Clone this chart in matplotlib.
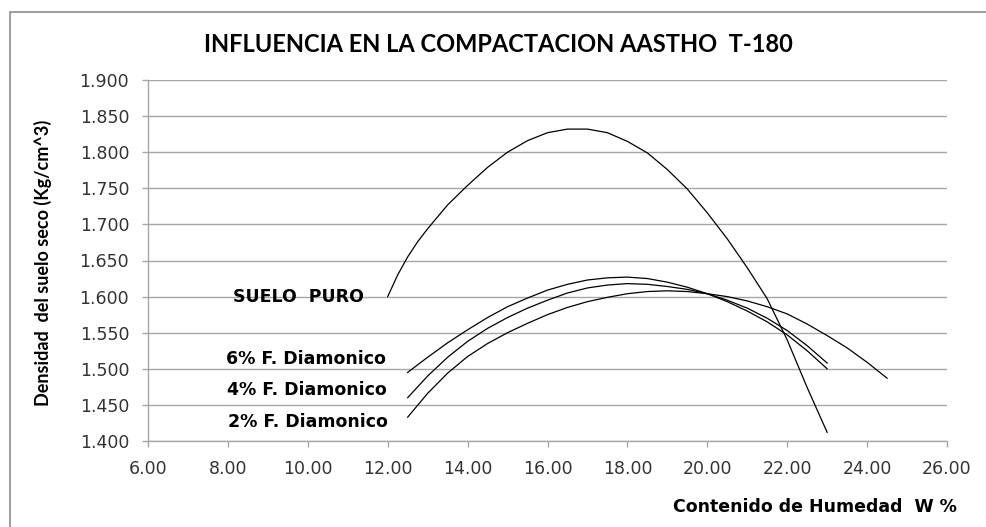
import matplotlib
matplotlib.use("Agg")
import matplotlib.pyplot as plt
from matplotlib.patches import Rectangle

# Humedad W% (x) and densidad seca (y)
x_puro = [12.0, 12.25, 12.5, 12.75, 13.0, 13.5, 14.0, 14.5, 15.0, 15.5, 16.0, 16.5, 17.0, 17.5,
          18.0, 18.5, 19.0, 19.5, 20.0, 20.5, 21.0, 21.5, 22.0, 22.5, 23.0]
y_puro = [1.600, 1.630, 1.655, 1.676, 1.694, 1.727, 1.754, 1.779, 1.800, 1.816, 1.827, 1.832,
          1.832, 1.827, 1.815, 1.799, 1.776, 1.749, 1.716, 1.680, 1.640, 1.597, 1.540, 1.474, 1.412]

x_6 = [12.5, 13.0, 13.5, 14.0, 14.5, 15.0, 15.5, 16.0, 16.5, 17.0, 17.5,
       18.0, 18.5, 19.0, 19.5, 20.0, 20.5, 21.0, 21.5, 22.0, 22.5, 23.0]
y_6 = [1.495, 1.516, 1.536, 1.554, 1.571, 1.586, 1.598, 1.609, 1.617, 1.623, 1.626,
       1.627, 1.625, 1.620, 1.613, 1.604, 1.593, 1.580, 1.565, 1.547, 1.525, 1.500]

x_4 = [12.5, 13.0, 13.5, 14.0, 14.5, 15.0, 15.5, 16.0, 16.5, 17.0, 17.5,
       18.0, 18.5, 19.0, 19.5, 20.0, 20.5, 21.0, 21.5, 22.0, 22.5, 23.0]
y_4 = [1.460, 1.490, 1.516, 1.538, 1.556, 1.571, 1.584, 1.595, 1.605, 1.612, 1.616,
       1.618, 1.617, 1.614, 1.610, 1.604, 1.595, 1.584, 1.570, 1.553, 1.532, 1.508]

x_2 = [12.5, 13.0, 13.5, 14.0, 14.5, 15.0, 15.5, 16.0, 16.5, 17.0, 17.5, 18.0, 18.5,
       19.0, 19.5, 20.0, 20.5, 21.0, 21.5, 22.0, 22.5, 23.0, 23.5, 24.0, 24.5]
y_2 = [1.433, 1.466, 1.494, 1.517, 1.535, 1.550, 1.563, 1.575, 1.585, 1.593, 1.599, 1.604, 1.607,
       1.608, 1.607, 1.604, 1.600, 1.594, 1.586, 1.576, 1.562, 1.546, 1.529, 1.509, 1.487]

x_ticks = [6, 8, 10, 12, 14, 16, 18, 20, 22, 24, 26]
y_ticks = [1.40, 1.45, 1.50, 1.55, 1.60, 1.65, 1.70, 1.75, 1.80, 1.85, 1.90]

# label text and (x, y) anchor in data units, right aligned
etiquetas = [("SUELO  PURO", 11.4, 1.600),
             ("6% F. Diamonico", 11.95, 1.514),
             ("4% F. Diamonico", 11.98, 1.470),
             ("2% F. Diamonico", 12.0, 1.427)]

title_font = ["Lato", "DejaVu Sans"]
label_font = ["DejaVu Sans"]
grid_col = "#a6a6a6"

fig = plt.figure(figsize=(9.87, 5.27), dpi=100)
fig.patches.append(Rectangle((10 / 987, -0.1), 1.1, 1 - 12 / 527 + 0.1,
                             transform=fig.transFigure, fill=False,
                             edgecolor="#8c8c8c", linewidth=1.2))

ax = fig.add_axes([148 / 987, 1 - 441 / 527, 799 / 987, 361 / 527])

for xs, ys in [(x_puro, y_puro), (x_6, y_6), (x_4, y_4), (x_2, y_2)]:
    ax.plot(xs, ys, color="black", linewidth=0.9, zorder=3)

ax.set_xlim(6, 26)
ax.set_ylim(1.4, 1.9)
ax.set_xticks(x_ticks)
ax.set_xticklabels([f"{v:.2f}" for v in x_ticks])
ax.set_yticks(y_ticks)
ax.set_yticklabels([f"{v:.3f}" for v in y_ticks])
ax.tick_params(axis="both", colors=grid_col, labelcolor="#333333",
               labelsize=12.5, length=4.5, width=1, direction="out")
ax.tick_params(axis="x", pad=9)
ax.tick_params(axis="y", pad=9)

ax.grid(axis="y", color=grid_col, linewidth=1.0)
ax.set_axisbelow(True)
for s in ["top", "right"]:
    ax.spines[s].set_visible(False)
for s in ["left", "bottom"]:
    ax.spines[s].set_color(grid_col)
    ax.spines[s].set_linewidth(1.0)

for texto, xt, yt in etiquetas:
    ax.text(xt, yt, texto, ha="right", va="center", fontsize=12.5,
            fontweight="bold", family=label_font, color="black")

fig.text(498 / 987, 1 - 44 / 527, "INFLUENCIA EN LA COMPACTACION AASTHO  T-180",
         ha="center", va="center", fontsize=17, fontweight="bold", family=title_font)
fig.text(43 / 987, 1 - 263 / 527, "Densidad  del suelo seco (Kg/cm^3)", rotation=90,
         ha="center", va="center", fontsize=13, fontweight="bold", family=title_font)
fig.text(957 / 987, 1 - 507 / 527, "Contenido de Humedad  W %",
         ha="right", va="center", fontsize=12.5, fontweight="bold", family=label_font)

fig.savefig("out.png", dpi=100)
